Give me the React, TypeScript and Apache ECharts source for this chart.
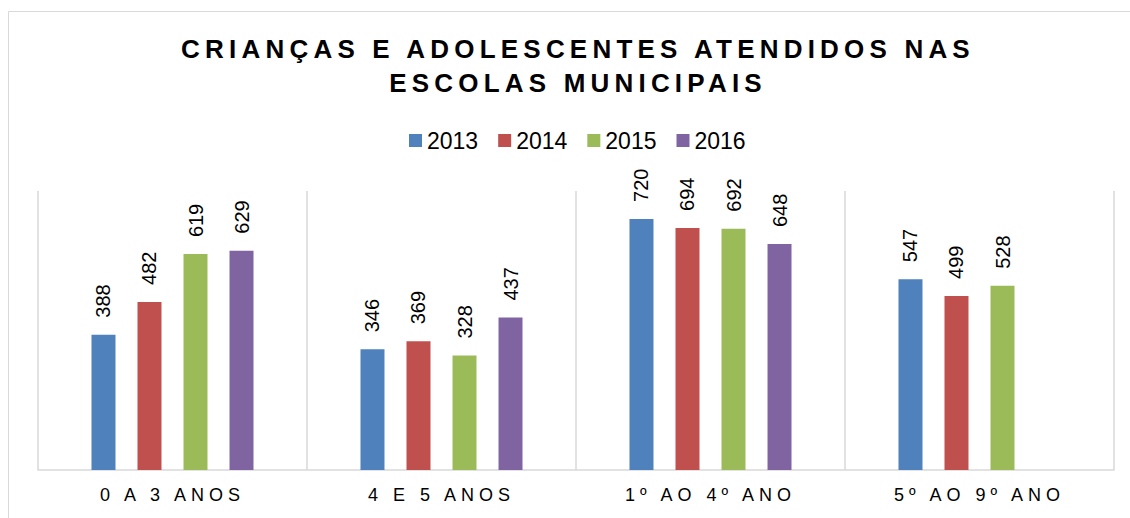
import React, { useEffect, useRef } from "react";
import * as echarts from "echarts";

const categories = ["0 A 3 ANOS", "4 E 5 ANOS", "1º AO 4º ANO", "5º AO 9º ANO"];
const years = ["2013", "2014", "2015", "2016"];
const values2013 = [388, 346, 720, 547];
const values2014 = [482, 369, 694, 499];
const values2015 = [619, 328, 692, 528];
const values2016: (number | null)[] = [629, 437, 648, null];
const colors = ["#4f81bd", "#c0504d", "#9bbb59", "#8064a2"];
const titleLines = ["CRIANÇAS E ADOLESCENTES ATENDIDOS NAS", "ESCOLAS MUNICIPAIS"];

const FONT = "'Liberation Sans', Arial, sans-serif";

export default function App() {
  const ref = useRef<HTMLDivElement>(null);
  useEffect(() => {
    if (!ref.current) return;
    const chart = echarts.init(ref.current, null, { renderer: "svg" });
    const seriesData = [values2013, values2014, values2015, values2016];
    chart.setOption({
      animation: false,
      backgroundColor: "#ffffff",
      textStyle: { fontFamily: FONT },
      title: {
        text: titleLines.join("\n"),
        left: 573,
        textAlign: "center",
        top: 27,
        textStyle: {
          fontFamily: FONT,
          fontSize: 26,
          fontWeight: "bold",
          color: "#000",
          lineHeight: 34,
        },
      },
      legend: {
        data: years,
        left: 404,
        top: 124,
        icon: "rect",
        itemWidth: 13,
        itemHeight: 13,
        itemGap: 20,
        textStyle: { fontFamily: FONT, fontSize: 23, color: "#000" },
      },
      graphic: [
        {
          type: "rect",
          shape: { x: 8.5, y: 11.5, width: 1200, height: 600 },
          style: { fill: "none", stroke: "#d9d9d9", lineWidth: 1 },
          silent: true,
        },
      ],
      grid: { left: 38, right: 16, top: 191, bottom: 48 },
      xAxis: {
        type: "category",
        data: categories,
        axisLine: { show: true, lineStyle: { color: "#d9d9d9", width: 1.5 } },
        axisTick: { show: false },
        splitLine: { show: true, lineStyle: { color: "#d9d9d9", width: 1.5 } },
        axisLabel: {
          fontFamily: FONT,
          fontSize: 18,
          color: "#000",
          margin: 16,
          interval: 0,
        },
      },
      yAxis: {
        type: "value",
        min: 0,
        max: 800,
        show: false,
        splitLine: { show: false },
      },
      series: years.map((y, i) => ({
        name: y,
        type: "bar",
        data: seriesData[i],
        barWidth: 24,
        barGap: "91.7%",
        itemStyle: { color: colors[i] },
        label: {
          show: true,
          position: "top",
          rotate: 90,
          align: "left",
          verticalAlign: "middle",
          distance: 17,
          fontFamily: FONT,
          fontSize: 20,
          color: "#000",
        },
      })),
    });

    const patch = () => {
      const root = ref.current;
      if (!root) return;
      root.querySelectorAll("text").forEach((t) => {
        const s = (t.textContent || "").trim();
        if (titleLines.includes(s)) {
          t.setAttribute("letter-spacing", "5.2");
          t.style.letterSpacing = "5.2px";
        } else if (categories.includes(s)) {
          t.setAttribute("letter-spacing", "5");
          t.style.letterSpacing = "5px";
        }
      });
    };
    patch();
    chart.on("finished", patch);
    const id = window.setTimeout(patch, 50);
    return () => {
      window.clearTimeout(id);
      chart.dispose();
    };
  }, []);
  return (
    <div
      ref={ref}
      style={{ position: "fixed", left: 0, top: 0, width: 1130, height: 518 }}
    />
  );
}
